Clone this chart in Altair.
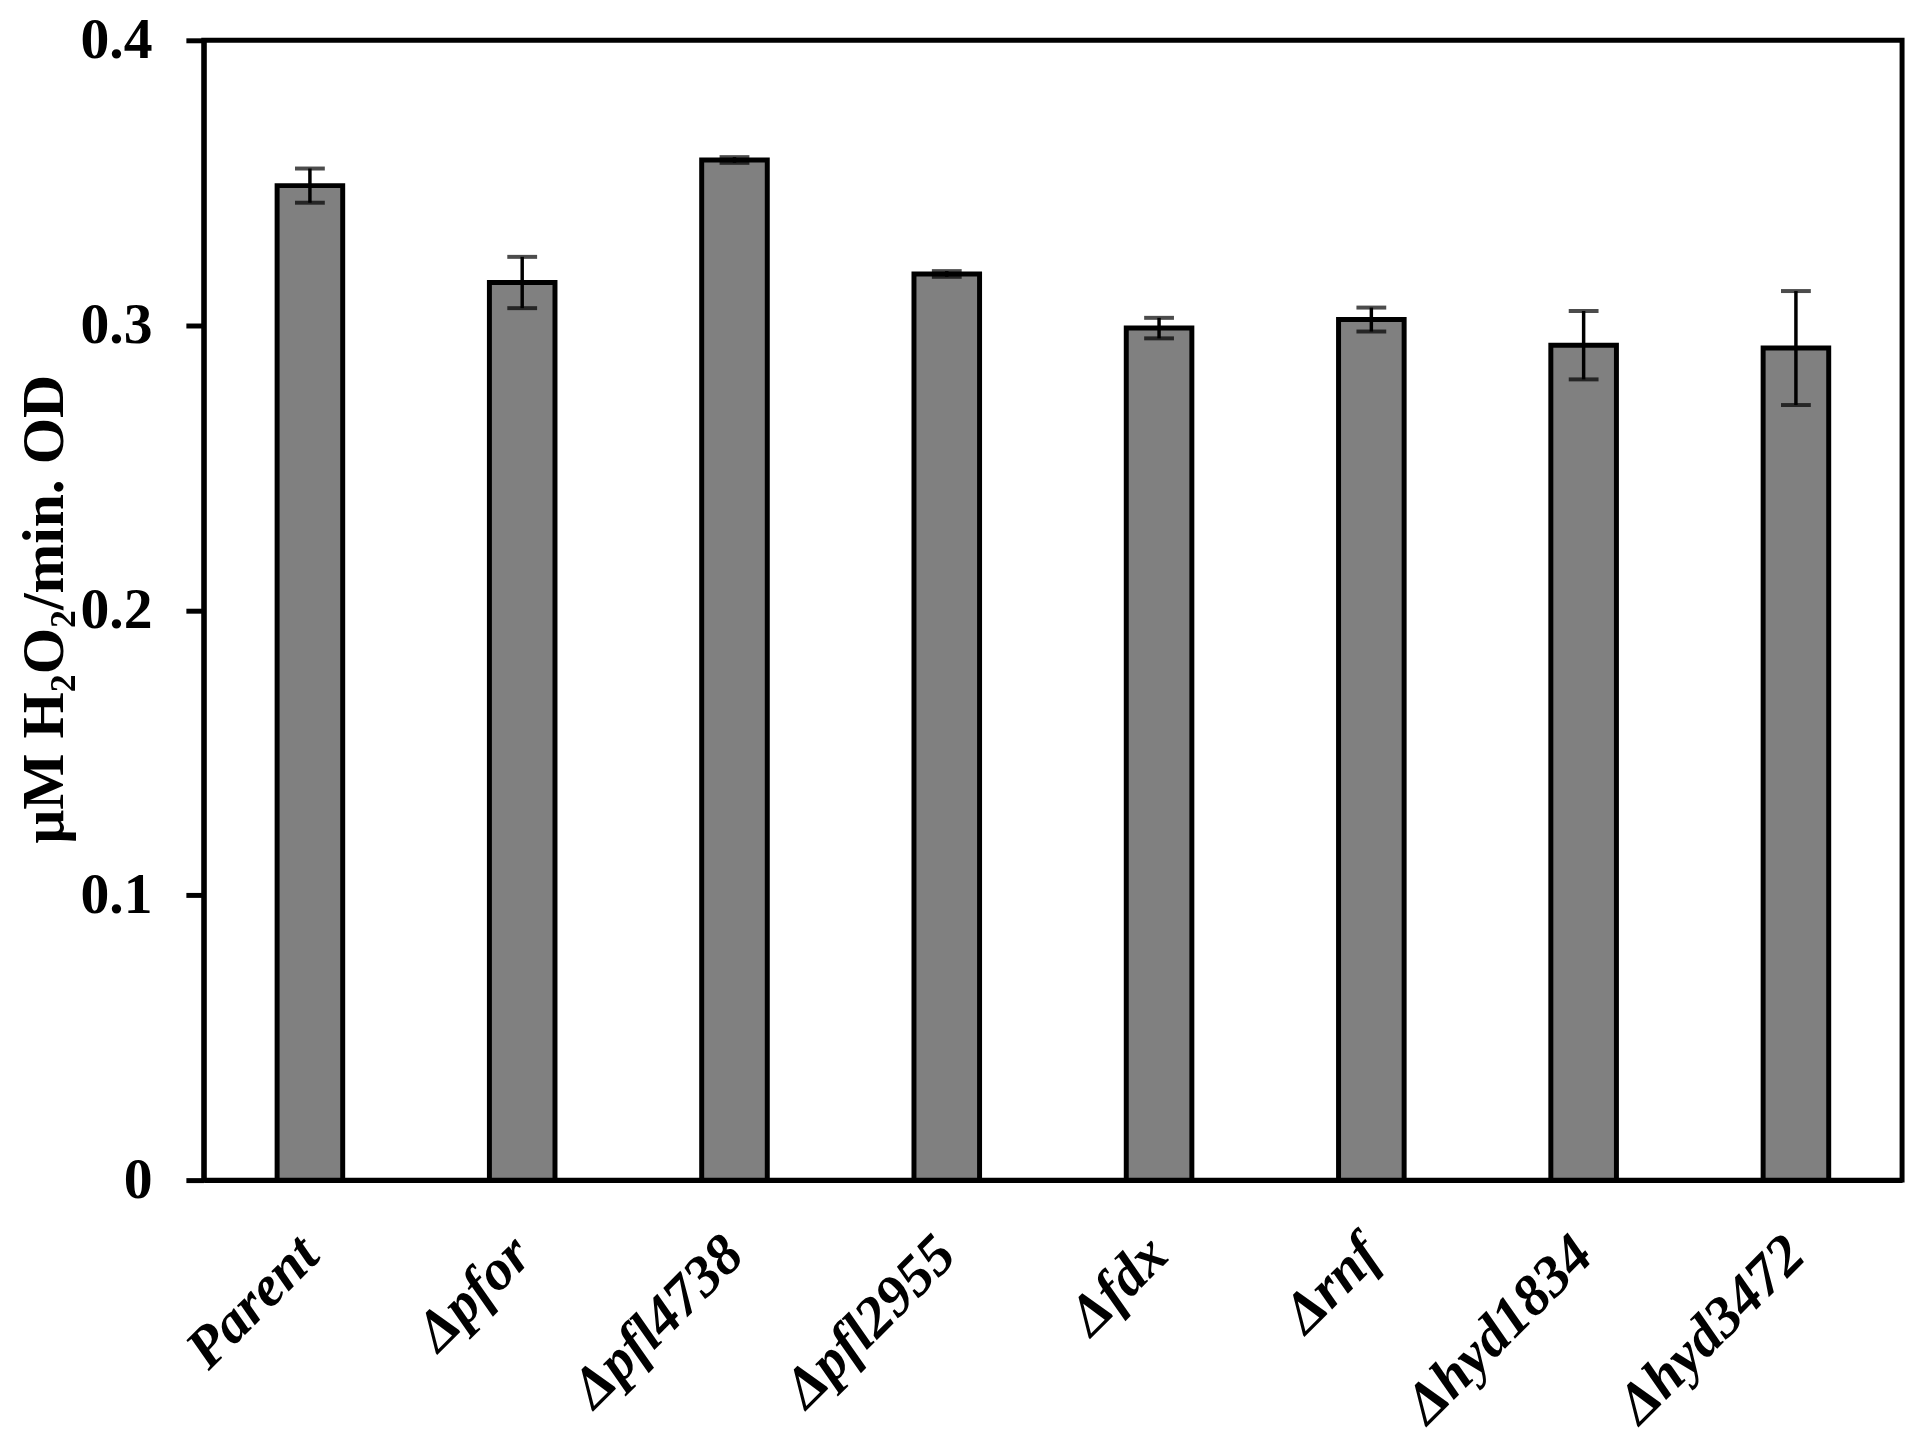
import altair as alt
import pandas as pd

categories = ["Parent", "Δpfor", "Δpfl4738", "Δpfl2955", "Δfdx", "Δrnf", "Δhyd1834", "Δhyd3472"]
means = [0.349, 0.315, 0.358, 0.318, 0.299, 0.302, 0.293, 0.292]
errs = [0.006, 0.009, 0.001, 0.001, 0.0036, 0.0042, 0.012, 0.020]

df = pd.DataFrame({"cat": categories, "mean": means, "err": errs})
df["lo"] = df["mean"] - df["err"]
df["hi"] = df["mean"] + df["err"]

FONT = "'Liberation Serif', 'Times New Roman', Times, serif"

x_enc = alt.X(
    "cat:N",
    sort=categories,
    scale=alt.Scale(paddingInner=0, paddingOuter=0),
    axis=alt.Axis(
        title=None,
        labelAngle=315,
        labelAlign="right",
        labelBaseline="middle",
        labelFont=FONT,
        labelFontSize=58,
        labelFontWeight="bold",
        labelFontStyle="italic",
        labelColor="black",
        labelPadding=66,
        labelLimit=0,
        ticks=False,
        domainColor="black",
        domainWidth=5,
    ),
)

y_scale = alt.Scale(domain=[0, 0.4], nice=False)

bars = alt.Chart(df).mark_bar(
    color="#808080", stroke="black", strokeWidth=5, size=66
).encode(
    x=x_enc,
    y=alt.Y(
        "mean:Q",
        scale=y_scale,
        axis=alt.Axis(
            values=[0, 0.1, 0.2, 0.3, 0.4],
            format=".1~f",
            title="μM H₂O₂/min. OD",
            titleFont=FONT,
            titleFontSize=60,
            titleFontWeight="bold",
            titleColor="black",
            titleAngle=270,
            titleAlign="center",
            titleBaseline="middle",
            titleX=-160,
            titleY=572,
            labelFont=FONT,
            labelFontSize=58,
            labelFontWeight="bold",
            labelColor="black",
            labelPadding=34,
            tickSize=18,
            tickWidth=5,
            tickColor="black",
            domainColor="black",
            domainWidth=5,
            grid=False,
        ),
    ),
)

rules = alt.Chart(df).mark_rule(color="black", strokeWidth=3.5).encode(
    x=alt.X("cat:N", sort=categories),
    y=alt.Y("lo:Q", scale=y_scale),
    y2="hi:Q",
)

caps_lo = alt.Chart(df).mark_tick(color="black", thickness=4, size=30).encode(
    x=alt.X("cat:N", sort=categories),
    y=alt.Y("lo:Q", scale=y_scale),
)
caps_hi = alt.Chart(df).mark_tick(color="black", thickness=4, size=30).encode(
    x=alt.X("cat:N", sort=categories),
    y=alt.Y("hi:Q", scale=y_scale),
)

chart = (
    alt.layer(bars, rules, caps_lo, caps_hi)
    .properties(
        width=1709,
        height=1147,
        autosize=alt.AutoSizeParams(type="none"),
        padding={"left": 197, "top": 28, "right": 10, "bottom": 253},
        background="white",
    )
    .configure_view(stroke="black", strokeWidth=5)
)

chart.save("out.html", embed_options={"renderer": "svg", "actions": False})
